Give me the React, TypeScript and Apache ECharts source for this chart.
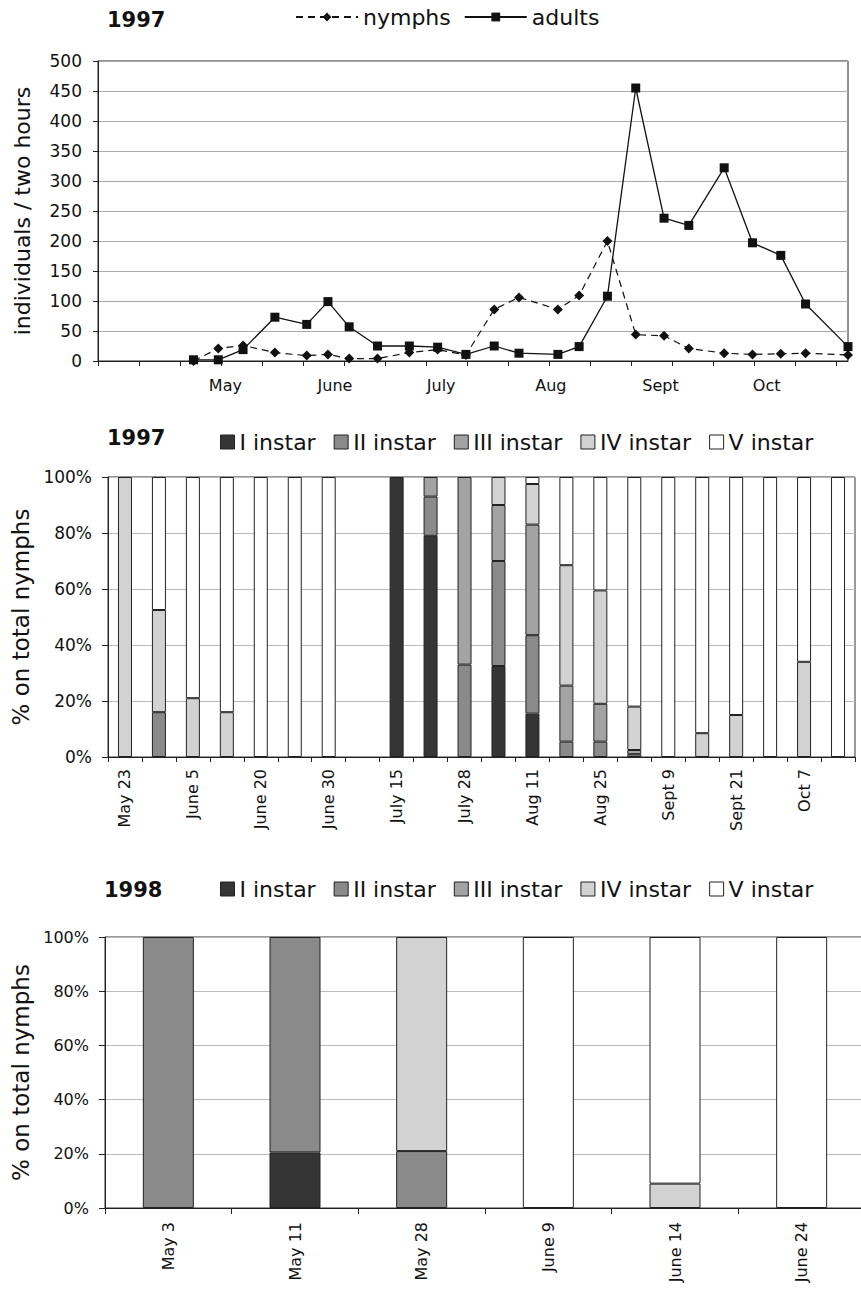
import React, { useEffect, useRef } from 'react';
import * as echarts from 'echarts';

// ---------- Top chart: 1997 catches (day of year of each sample) ----------
const sampleDay = [126, 133, 140, 149, 158, 164, 170, 178, 187, 195, 203, 211, 218, 229, 235, 243, 251, 259, 266, 276, 284, 292, 299, 311];
const nymphs = [0, 21, 26, 14, 9, 11, 4, 4, 14, 19, 10, 86, 106, 86, 109, 200, 44, 42, 21, 13, 11, 12, 13, 10];
const adults = [2, 2, 19, 73, 61, 99, 57, 25, 25, 23, 11, 25, 13, 11, 24, 108, 455, 238, 226, 322, 197, 176, 95, 24];
const monthDay = [135, 166, 196, 227, 258, 288];
const monthLabels = ['May', 'June', 'July', 'Aug', 'Sept', 'Oct'];

// ---------- Middle chart: 1997 instar composition (%) ----------
const dates97 = ['May 23', '', 'June 5', '', 'June 20', '', 'June 30', '', 'July 15', '', 'July 28', '', 'Aug 11', '', 'Aug 25', '', 'Sept 9', '', 'Sept 21', '', 'Oct 7', ''];
const inst1_97 = [0, 0, 0, 0, 0, 0, 0, 0, 100, 79, 0, 32.5, 15.5, 0, 0, 0, 0, 0, 0, 0, 0, 0];
const inst2_97 = [0, 16, 0, 0, 0, 0, 0, 0, 0, 14, 33, 37.5, 28, 5.5, 5.5, 1, 0, 0, 0, 0, 0, 0];
const inst3_97 = [0, 0, 0, 0, 0, 0, 0, 0, 0, 7, 67, 20, 39.5, 20, 13.5, 1.5, 0, 0, 0, 0, 0, 0];
const inst4_97 = [100, 36.5, 21, 16, 0, 0, 0, 0, 0, 0, 0, 10, 14.5, 43, 40.5, 15.5, 0, 8.5, 15, 0, 34, 0];
const inst5_97 = [0, 47.5, 79, 84, 100, 100, 100, 0, 0, 0, 0, 0, 2.5, 31.5, 40.5, 82, 100, 91.5, 85, 100, 66, 100];

// ---------- Bottom chart: 1998 instar composition (%) ----------
const dates98 = ['May 3', 'May 11', 'May 28', 'June 9', 'June 14', 'June 24'];
const inst1_98 = [0, 20.5, 0, 0, 0, 0];
const inst2_98 = [100, 79.5, 21, 0, 0, 0];
const inst3_98 = [0, 0, 0, 0, 0, 0];
const inst4_98 = [0, 0, 79, 0, 9, 0];
const inst5_98 = [0, 0, 0, 100, 91, 100];

const instarNames = ['I instar', 'II instar', 'III instar', 'IV instar', 'V instar'];
const instarColors = ['#353535', '#8a8a8a', '#a3a3a3', '#d2d2d2', '#ffffff'];

const FONT = 'DejaVu Sans';
const INK = '#111';

export default function App() {
  const ref = useRef<HTMLDivElement>(null);

  useEffect(() => {
    if (!ref.current) return;
    const chart = echarts.init(ref.current, null, { renderer: 'svg' });

    const dayTicks = Array.from({ length: 19 }, (_, i) => 99 + i * 11.6);
    const data97 = [inst1_97, inst2_97, inst3_97, inst4_97, inst5_97];
    const data98 = [inst1_98, inst2_98, inst3_98, inst4_98, inst5_98];

    const barSeries = (set: number[][], stack: string, axisIdx: number, width: number) =>
      instarNames.map((name, k) => ({
        name,
        type: 'bar',
        stack,
        xAxisIndex: axisIdx,
        yAxisIndex: axisIdx,
        barWidth: width,
        data: set[k].map((v) => (v === 0 ? '-' : v)),
        itemStyle: { color: instarColors[k], borderColor: '#222', borderWidth: 1 },
      }));

    const pctAxis = (gridIndex: number, fs: number, gap: number) => ({
      gridIndex,
      type: 'value',
      min: 0,
      max: 100,
      interval: 20,
      name: '% on total nymphs',
      nameLocation: 'middle',
      nameGap: gap,
      nameTextStyle: { fontSize: 23, color: INK, fontFamily: FONT },
      axisLine: { show: true, lineStyle: { color: '#222' } },
      axisTick: { show: true, length: 6, lineStyle: { color: '#222' } },
      axisLabel: { formatter: '{value}%', fontSize: fs, color: INK, margin: 16 },
      splitLine: { show: true, lineStyle: { color: '#bbb', width: 1 } },
    });

    const legendBase = {
      padding: 0,
      icon: 'rect',
      itemWidth: 14,
      itemHeight: 14,
      itemGap: 18,
      itemStyle: { borderColor: '#222', borderWidth: 1 },
      data: instarNames,
      textStyle: { fontSize: 22, color: INK, fontFamily: FONT },
    };

    chart.setOption({
      animation: false,
      backgroundColor: '#ffffff',
      textStyle: { fontFamily: FONT, color: INK },
      graphic: [
        { type: 'text', left: 107, top: 9, style: { text: '1997', font: `bold 21px "${FONT}"`, fill: INK } },
        { type: 'text', left: 107, top: 427, style: { text: '1997', font: `bold 21px "${FONT}"`, fill: INK } },
        { type: 'text', left: 104, top: 879, style: { text: '1998', font: `bold 21px "${FONT}"`, fill: INK } },
      ],
      legend: [
        {
          left: 295,
          top: 6,
          padding: 0,
          itemWidth: 62,
          itemHeight: 11,
          itemGap: 13,
          data: ['nymphs', 'adults'],
          textStyle: { fontSize: 22, color: INK, fontFamily: FONT },
        },
        { ...legendBase, left: 220, top: 431 },
        { ...legendBase, left: 220, top: 878 },
      ],
      grid: [
        { left: 98, top: 61, width: 750, height: 300, show: true, borderColor: '#222', borderWidth: 1, outerBoundsMode: 'none' },
        { left: 108, top: 477, width: 747, height: 280, show: true, borderColor: '#333', borderWidth: 1, outerBoundsMode: 'none' },
        { left: 105, top: 937, width: 760, height: 271, show: true, borderColor: '#333', borderWidth: 1, outerBoundsMode: 'none' },
      ],
      xAxis: [
        {
          gridIndex: 0,
          type: 'value',
          min: 99,
          max: 311,
          axisLine: { show: true, lineStyle: { color: '#222' } },
          axisTick: { show: true, customValues: dayTicks, length: 5, lineStyle: { color: '#222' } },
          axisLabel: {
            customValues: monthDay,
            formatter: (v: number) => monthLabels[monthDay.indexOf(v)] ?? '',
            fontSize: 16,
            color: INK,
            margin: 16,
          },
          splitLine: { show: false },
        },
        {
          gridIndex: 1,
          type: 'category',
          data: dates97,
          axisLine: { show: true, lineStyle: { color: '#222' } },
          axisTick: { show: true, interval: 0, length: 5, lineStyle: { color: '#222' } },
          axisLabel: { interval: 0, rotate: 90, fontSize: 16, color: INK, margin: 12 },
        },
        {
          gridIndex: 2,
          type: 'category',
          data: dates98,
          axisLine: { show: true, lineStyle: { color: '#222' } },
          axisTick: { show: true, interval: 0, length: 6, lineStyle: { color: '#222' } },
          axisLabel: { interval: 0, rotate: 90, fontSize: 16, color: INK, margin: 14 },
        },
      ],
      yAxis: [
        {
          gridIndex: 0,
          type: 'value',
          min: 0,
          max: 500,
          interval: 50,
          name: 'individuals / two hours',
          nameLocation: 'middle',
          nameGap: 65,
          nameTextStyle: { fontSize: 22, color: INK, fontFamily: FONT },
          axisLine: { show: true, lineStyle: { color: '#222' } },
          axisTick: { show: true, length: 5, lineStyle: { color: '#222' } },
          axisLabel: { fontSize: 17, color: INK, margin: 16 },
          splitLine: { show: true, lineStyle: { color: '#aaa', width: 1 } },
        },
        pctAxis(1, 17, 70),
        pctAxis(2, 16, 67),
      ],
      series: [
        {
          name: 'nymphs',
          type: 'line',
          xAxisIndex: 0,
          yAxisIndex: 0,
          data: sampleDay.map((d, i) => [d, nymphs[i]]),
          symbol: 'diamond',
          symbolSize: 10,
          itemStyle: { color: '#111' },
          lineStyle: { color: '#111', width: 1.2, type: [7, 5] },
        },
        {
          name: 'adults',
          type: 'line',
          xAxisIndex: 0,
          yAxisIndex: 0,
          data: sampleDay.map((d, i) => [d, adults[i]]),
          symbol: 'rect',
          symbolSize: 9,
          itemStyle: { color: '#111' },
          lineStyle: { color: '#111', width: 1.3, type: 'solid' },
        },
        ...barSeries(data97, 's97', 1, 14),
        ...barSeries(data98, 's98', 2, 51),
      ],
    });

    return () => chart.dispose();
  }, []);

  return (
    <div
      ref={ref}
      style={{ position: 'absolute', left: 0, top: 0, width: 861, height: 1290, background: '#fff' }}
    />
  );
}
